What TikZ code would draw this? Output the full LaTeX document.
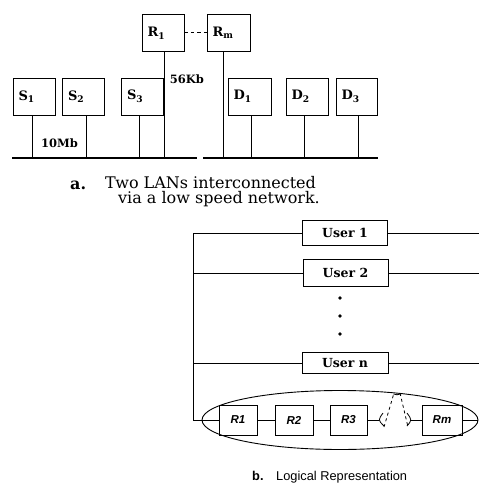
\documentclass[tikz,border=0pt]{standalone}
\usepackage{fontspec}
\setmainfont{DejaVu Serif}
\newfontfamily\sansf{Liberation Sans}
\usetikzlibrary{calc,shapes.geometric}
\tikzset{
  boxa/.style={draw, line width=0.9pt, text width=31pt, inner xsep=5.5pt, inner ysep=0pt,
    minimum height=37pt, align=left,
    font=\fontsize{13}{15}\selectfont\bfseries},
  ubox/.style={draw, line width=0.8pt, minimum width=85pt, inner sep=0pt,
    font=\fontsize{12.5}{14}\selectfont\bfseries},
  rbox/.style={draw, line width=0.8pt, minimum width=38pt, minimum height=30pt, inner sep=0pt,
    font=\sansf\fontsize{11.5}{13}\selectfont\bfseries\itshape},
  wire/.style={line width=0.8pt},
  bus/.style={line width=2.6pt},
  lbl/.style={inner sep=0pt, font=\fontsize{11.5}{13}\selectfont\bfseries},
  capt/.style={inner sep=0pt, anchor=base west, font=\fontsize{16}{14.5}\selectfont},
  captb/.style={inner sep=0pt, anchor=base west, font=\sansf\fontsize{12.8}{14}\selectfont},
  dot/.style={circle, fill, inner sep=0pt, minimum size=3.6pt},
}
\begin{document}
\begin{tikzpicture}[x=1pt,y=-1pt]
\useasboundingbox (0,0) rectangle (479,493);
% ---------- part a ----------
\node[boxa] (R1) at (163,33) {R\textsubscript{1}};
\node[boxa, text width=32pt] (Rm) at (228.5,33) {R\textsubscript{m}};
\node[boxa] (S1) at (34,96.5) {S\textsubscript{1}};
\node[boxa] (S2) at (83.5,96.5) {S\textsubscript{2}};
\node[boxa] (S3) at (142.5,96.5) {S\textsubscript{3}};
\node[boxa, text width=32pt] (D1) at (249.5,96.5) {D\textsubscript{1}};
\node[boxa] (D2) at (307,96.5) {D\textsubscript{2}};
\node[boxa, text width=30pt] (D3) at (356.5,96.5) {D\textsubscript{3}};
\coordinate (busLa) at (12,158);
\coordinate (busLb) at (197,158);
\coordinate (busRa) at (203,158);
\coordinate (busRb) at (378,158);
\draw[bus] (busLa) -- (busLb);
\draw[bus] (busRa) -- (busRb);
\foreach \n/\dx in {S1/-2,S2/2.5,S3/-3.5,D1/1.5,D2/-3,D3/1.5}{
  \draw[wire] ([xshift=\dx pt]\n.south) -- ([xshift=\dx pt]\n.south |- busLa);
}
\draw[wire] ([xshift=1pt]R1.south) -- ([xshift=1pt]R1.south |- busLa);
\draw[wire] ([xshift=-5.5pt]Rm.south) -- ([xshift=-5.5pt]Rm.south |- busLa);
\draw[wire, dash pattern=on 3.5pt off 3pt] ([yshift=1pt]R1.east) -- ([yshift=1pt]Rm.west);
\node[lbl] (k56) at (187,79) {56Kb};
\node[lbl] (m10) at (59.5,143) {10Mb};
\node[capt] (capa1) at (70,189) {\bfseries a.};
\node[capt, anchor=north west, align=left] (capa2) at (105,176.5)
  {Two LANs interconnected\\\hspace*{13pt}via a low speed network.};
% ---------- part b ----------
\node[ubox, minimum height=25pt] (U1) at (345,233) {User 1};
\node[ubox, minimum height=27pt] (U2) at (345.5,273) {User 2};
\node[ubox, minimum height=21pt, minimum width=86pt] (Un) at (345,363) {User n};
\node[dot] (d1) at (340,298) {};
\node[dot] (d2) at (340,316) {};
\node[dot] (d3) at (340,334) {};
\node[draw, ellipse, line width=0.9pt, minimum width=276pt, minimum height=59pt, inner sep=0pt] (E) at (340,420) {};
\coordinate (vtop) at (193,233);
\coordinate (vbot) at (193,420);
\coordinate (o1) at (479,233);
\coordinate (o2) at (479,273);
\coordinate (on) at (479,363);
\draw[wire] (vtop) -- (vbot) -- (E.west);
\draw[wire] (vtop) -- (U1.west);
\draw[wire] (U1.east) -- (o1);
\draw[wire] (vtop |- U2) -- (U2.west);
\draw[wire] (U2.east) -- (o2);
\draw[wire] (vtop |- Un) -- (Un.west);
\draw[wire] (Un.east) -- (on);
\node[rbox] (Q1) at (238,420) {R1};
\node[rbox] (Q2) at (294,420) {R2};
\node[rbox, minimum width=37pt] (Q3) at (348.5,420) {R3};
\node[rbox, minimum width=40pt] (Qm) at (442,420) {Rm};
\coordinate (gapL) at (379,420);
\coordinate (gapR) at (411,420);
\coordinate (apex) at (397,395);
\draw[wire] (E.west) -- (Q1.west);
\draw[wire] (Q1.east) -- (Q2.west);
\draw[wire] (Q2.east) -- (Q3.west);
\draw[wire] (Q3.east) -- (gapL);
\draw[wire] (gapR) -- (Qm.west);
\draw[wire] (Qm.east) -- (E.east);
\draw[wire] ([xshift=5pt,yshift=-6pt]gapL) .. controls ([xshift=-1pt]gapL) .. ([xshift=4pt,yshift=7pt]gapL);
\draw[wire] ([xshift=-4pt,yshift=-6pt]gapR) .. controls ([xshift=1pt]gapR) .. ([xshift=-4pt,yshift=7pt]gapR);
\draw[wire, dash pattern=on 3pt off 3pt] ([xshift=5pt,yshift=-7pt]gapL) -- ([xshift=-3pt,yshift=2pt]apex);
\draw[wire, dash pattern=on 3pt off 3pt] ([xshift=3pt,yshift=2pt]apex) -- ([xshift=-3pt,yshift=-7pt]gapR);
\draw[wire] ([xshift=-3.5pt,yshift=1pt]apex) .. controls (apex) .. ([xshift=3.5pt,yshift=1pt]apex);
\node[captb, font=\sansf\fontsize{12.8}{14}\selectfont\bfseries] (capb1) at (252,480) {b.};
\node[captb] (capb2) at (276,480) {Logical Representation};
\end{tikzpicture}
\end{document}
